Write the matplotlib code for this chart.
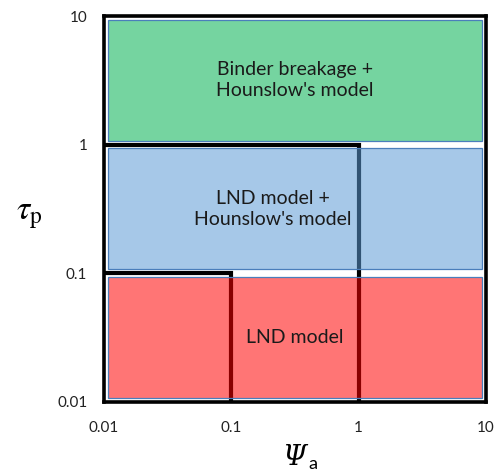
import numpy as np
import matplotlib
matplotlib.use("Agg")
import matplotlib.pyplot as plt
from matplotlib.patches import Rectangle

plt.rcParams["mathtext.fontset"] = "stix"

# Regime map: x = Psi_a, y = tau_p (both log scaled)
tick_values = [0.01, 0.1, 1, 10]
tick_labels = ["0.01", "0.1", "1", "10"]

region_names = ["Binder breakage +\nHounslow's model",
                "LND model +\nHounslow's model",
                "LND model"]
region_x = [(0.01, 10), (0.01, 10), (0.01, 10)]
region_y = [(1, 10), (0.1, 1), (0.01, 0.1)]
region_colors = ["#00B050", "#5B9BD5", "#FF0000"]
label_pos = [(0.316, 3.16), (0.213, 0.316), (0.316, 0.0316)]

# Boundary lines separating the regimes
boundary_1_x = [0.01, 1, 1]
boundary_1_y = [1, 1, 0.01]
boundary_2_x = [0.01, 0.1, 0.1]
boundary_2_y = [0.1, 0.1, 0.01]

fig = plt.figure(figsize=(5.0, 4.71), dpi=100)
ax = fig.add_axes([0.208, 0.1475, 0.764, 0.8185])
ax.set_xscale("log")
ax.set_yscale("log")
ax.set_xlim(0.01, 10)
ax.set_ylim(0.01, 10)

for xs, ys in [(boundary_1_x, boundary_1_y), (boundary_2_x, boundary_2_y)]:
    ax.plot(xs, ys, color="black", lw=3.0, solid_joinstyle="miter",
            solid_capstyle="butt", zorder=1)

# small inset (in decades) so neighbouring regions leave a white gap
inset = 0.0275
for (x0, x1), (y0, y1), c in zip(region_x, region_y, region_colors):
    lx0, lx1 = np.log10(x0) + inset, np.log10(x1) - inset
    ly0, ly1 = np.log10(y0) + inset, np.log10(y1) - inset
    rx0, rx1, ry0, ry1 = 10**lx0, 10**lx1, 10**ly0, 10**ly1
    ax.add_patch(Rectangle((rx0, ry0), rx1 - rx0, ry1 - ry0,
                           facecolor=matplotlib.colors.to_rgba(c, 0.54),
                           edgecolor="#4A7EBB", lw=0.9, zorder=2))

for name, (tx, ty) in zip(region_names, label_pos):
    ax.text(tx, ty, name, ha="center", va="center", fontsize=14,
            family="Lato", color="#1a1a1a", linespacing=1.3, zorder=3)

for s in ax.spines.values():
    s.set_linewidth(2.6)
    s.set_color("black")
    s.set_zorder(4)

ax.set_xticks(tick_values)
ax.set_xticklabels(tick_labels)
ax.set_yticks(tick_values)
ax.set_yticklabels(tick_labels)
ax.minorticks_off()
ax.tick_params(axis="both", length=0, labelsize=11, colors="#222222")
ax.tick_params(axis="x", pad=14)
ax.tick_params(axis="y", pad=12)
for lab in ax.get_xticklabels() + ax.get_yticklabels():
    lab.set_family("Lato")

# axis titles
fig.text(0.058, 0.545, r"$\tau_{\mathrm{p}}$", fontsize=24,
         ha="center", va="center")
fig.text(0.589, 0.012, "Ψ", family="DejaVu Serif", style="italic",
         fontsize=20, ha="center", va="baseline")
fig.text(0.616, 0.004, "a", family="Lato", fontsize=13,
         ha="left", va="baseline")

fig.savefig("out.png", dpi=100)
